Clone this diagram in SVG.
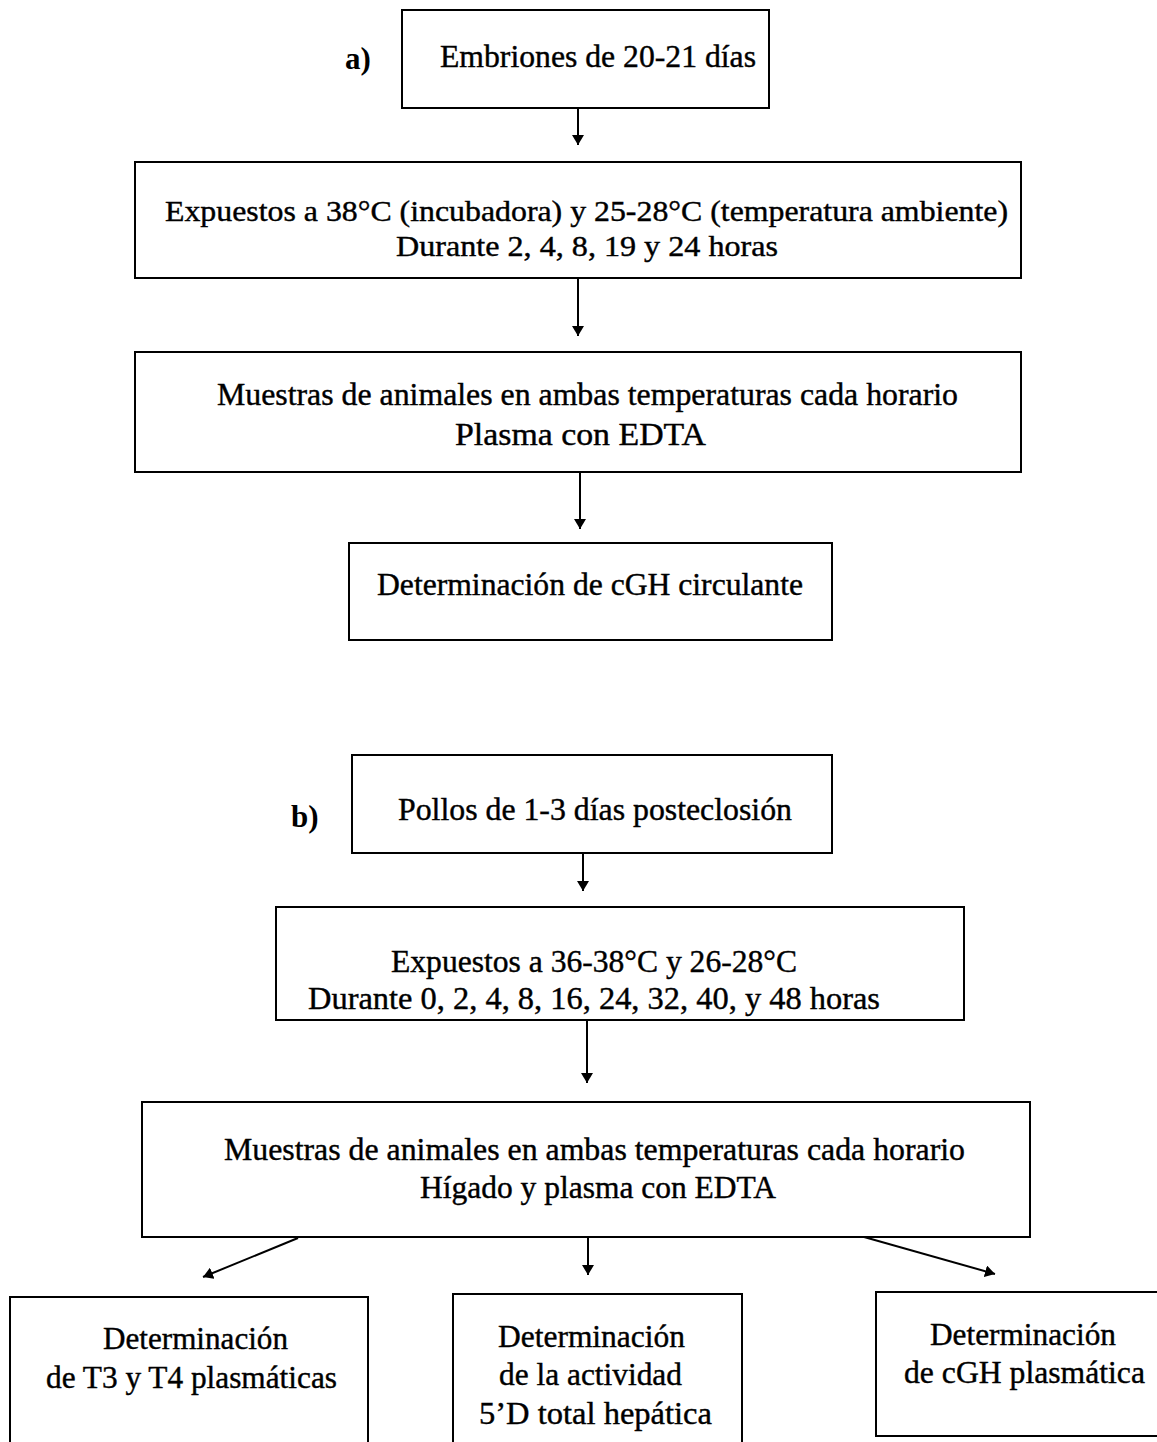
<svg xmlns="http://www.w3.org/2000/svg" width="1157" height="1442" viewBox="0 0 1157 1442">
<style>
.box{fill:#fff;stroke:#000;stroke-width:2}
text{font-family:"Liberation Serif","Times New Roman",serif;font-size:31px;fill:#000;stroke:#000;stroke-width:0.4}
.sm{font-size:29px}
.lbl{font-weight:bold;stroke-width:0}
.c{stroke:#000;stroke-width:2;fill:none;marker-end:url(#ah)}
</style>
<defs>
<marker id="ah" viewBox="0 0 10 12" refX="10" refY="6" markerWidth="10" markerHeight="12" markerUnits="userSpaceOnUse" orient="auto"><path d="M0,0 L10,6 L0,12 z" fill="#000"/></marker>
</defs>
<rect width="1157" height="1442" fill="#fff"/>
<g id="connectors">
<line class="c" x1="578" y1="108" x2="578" y2="145"/>
<line class="c" x1="578" y1="278" x2="578" y2="336"/>
<line class="c" x1="580" y1="472" x2="580" y2="529"/>
<line class="c" x1="583" y1="853" x2="583" y2="891"/>
<line class="c" x1="587" y1="1020" x2="587" y2="1083"/>
<line class="c" x1="298" y1="1238" x2="203" y2="1277"/>
<line class="c" x1="588" y1="1238" x2="588" y2="1275"/>
<line class="c" x1="857" y1="1235" x2="995" y2="1274"/>
</g>
<g id="label-a"><text class="lbl" x="345" y="69">a)</text></g>
<g id="n1"><rect class="box" x="402" y="10" width="367" height="98"/><text x="440" y="67" textLength="316" lengthAdjust="spacingAndGlyphs">Embriones de 20-21 días</text></g>
<g id="n2"><rect class="box" x="135" y="162" width="886" height="116"/>
<text class="sm" x="165" y="221" textLength="843" lengthAdjust="spacingAndGlyphs">Expuestos a 38°C (incubadora) y 25-28°C (temperatura ambiente)</text>
<text class="sm" x="396" y="256" textLength="382" lengthAdjust="spacingAndGlyphs">Durante 2, 4, 8, 19 y 24 horas</text></g>
<g id="n3"><rect class="box" x="135" y="352" width="886" height="120"/>
<text x="217" y="405" textLength="741" lengthAdjust="spacingAndGlyphs">Muestras de animales en ambas temperaturas cada horario</text>
<text x="455" y="445" textLength="251" lengthAdjust="spacingAndGlyphs">Plasma con EDTA</text></g>
<g id="n4"><rect class="box" x="349" y="543" width="483" height="97"/>
<text x="377" y="595" textLength="426" lengthAdjust="spacingAndGlyphs">Determinación de cGH circulante</text></g>
<g id="label-b"><text class="lbl" x="291" y="827">b)</text></g>
<g id="n5"><rect class="box" x="352" y="755" width="480" height="98"/>
<text x="398" y="820" textLength="394" lengthAdjust="spacingAndGlyphs">Pollos de 1-3 días posteclosión</text></g>
<g id="n6"><rect class="box" x="276" y="907" width="688" height="113"/>
<text x="391" y="972" textLength="406" lengthAdjust="spacingAndGlyphs">Expuestos a 36-38°C y 26-28°C</text>
<text x="308" y="1009" textLength="572" lengthAdjust="spacingAndGlyphs">Durante 0, 2, 4, 8, 16, 24, 32, 40, y 48 horas</text></g>
<g id="n7"><rect class="box" x="142" y="1102" width="888" height="135"/>
<text x="224" y="1160" textLength="741" lengthAdjust="spacingAndGlyphs">Muestras de animales en ambas temperaturas cada horario</text>
<text x="420" y="1198" textLength="356" lengthAdjust="spacingAndGlyphs">Hígado y plasma con EDTA</text></g>
<g id="n8"><rect class="box" x="10" y="1297" width="358" height="160"/>
<text x="103" y="1349" textLength="185" lengthAdjust="spacingAndGlyphs">Determinación</text>
<text x="46" y="1388" textLength="291" lengthAdjust="spacingAndGlyphs">de T3 y T4 plasmáticas</text></g>
<g id="n9"><rect class="box" x="453" y="1294" width="289" height="160"/>
<text x="498" y="1347" textLength="187" lengthAdjust="spacingAndGlyphs">Determinación</text>
<text x="499" y="1385" textLength="183" lengthAdjust="spacingAndGlyphs">de la actividad</text>
<text x="479" y="1424" textLength="233" lengthAdjust="spacingAndGlyphs">5’D total hepática</text></g>
<g id="n10"><rect class="box" x="876" y="1292" width="300" height="144"/>
<text x="930" y="1345" textLength="186" lengthAdjust="spacingAndGlyphs">Determinación</text>
<text x="904" y="1383" textLength="241" lengthAdjust="spacingAndGlyphs">de cGH plasmática</text></g>
</svg>
